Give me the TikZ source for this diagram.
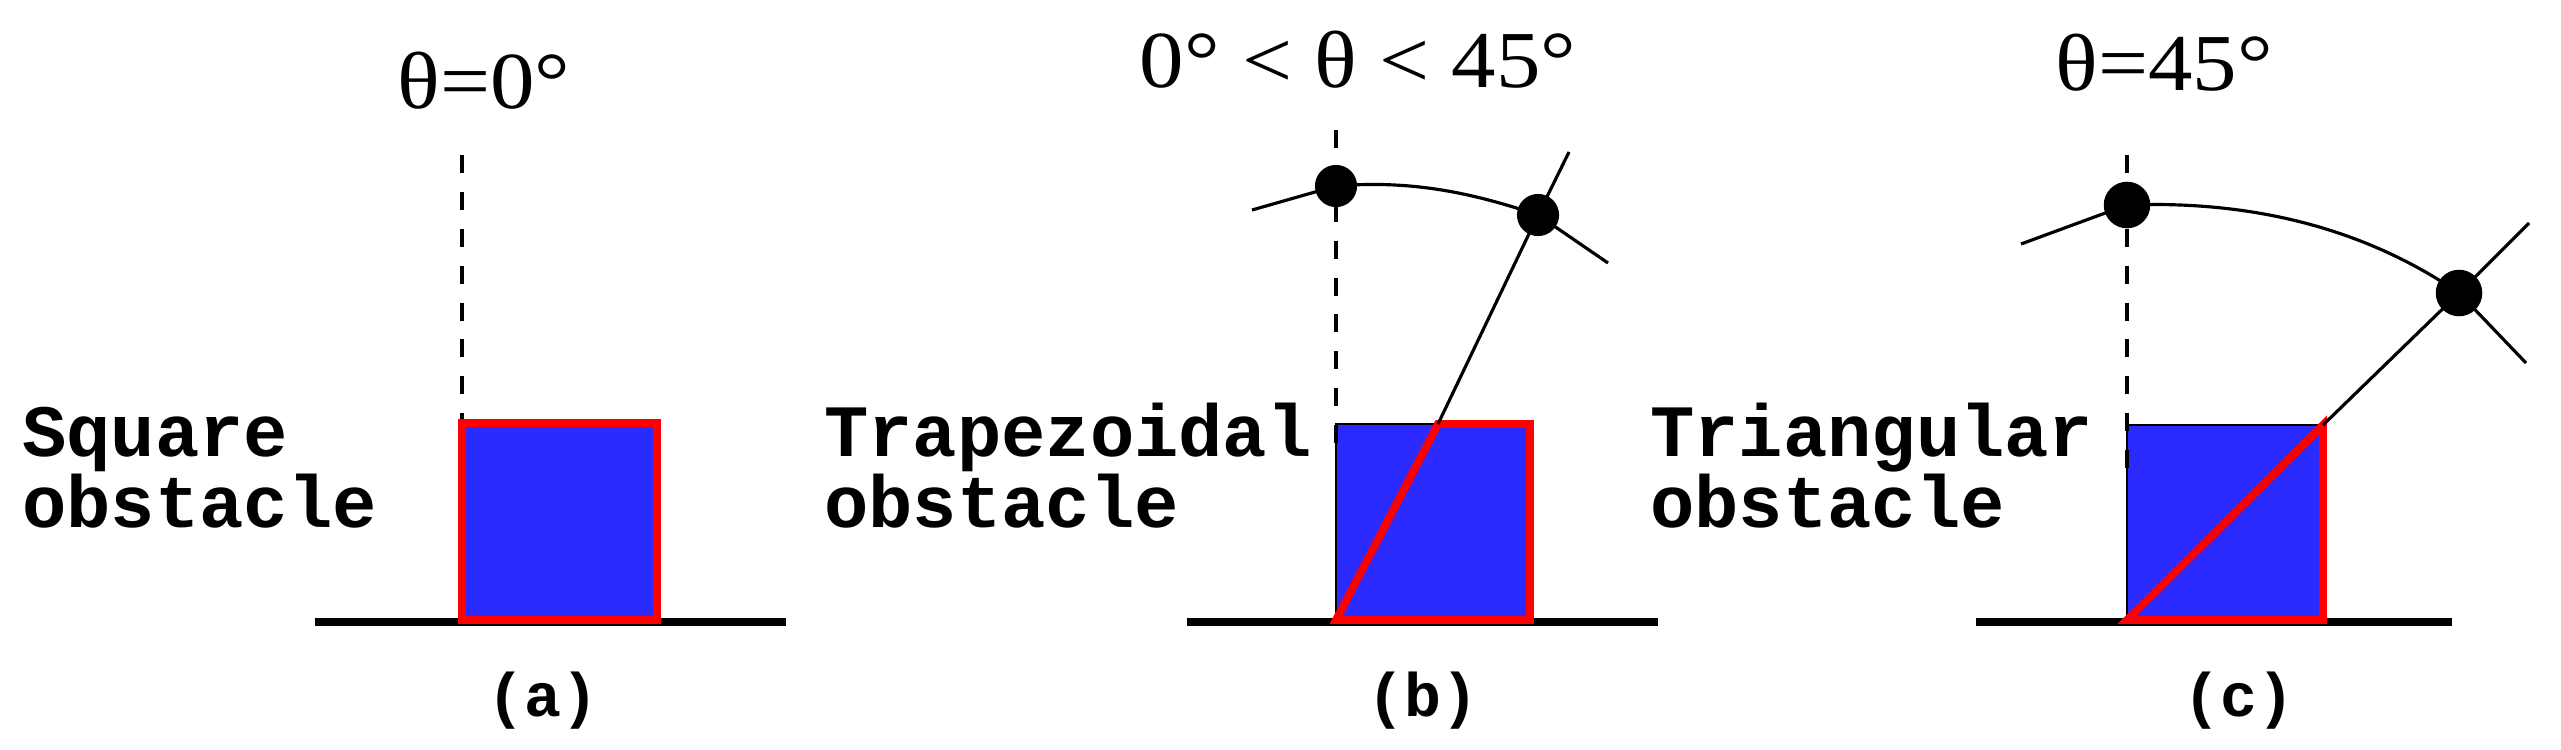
\documentclass[tikz,border=0pt]{standalone}
\usepackage{fontspec}
\setmainfont{Liberation Serif}
\setmonofont{Liberation Mono}
\newfontfamily\anglefont[FakeStretch=1.1]{Liberation Serif}
\definecolor{obstblue}{RGB}{43,43,255}
\definecolor{obstred}{RGB}{255,0,0}
\tikzset{
  ground/.style={line width=5pt},
  block/.style={fill=obstblue,draw=black,line width=1.5pt},
  redline/.style={draw=obstred,line width=4.5pt},
  vline/.style={line width=2.5pt,dash pattern=on 10.2pt off 10.8pt},
  arm/.style={line width=1.8pt},
  pivot/.style={circle,fill=black,inner sep=0pt,minimum size=24pt},
  anglelabel/.style={font=\fontsize{46}{54}\anglefont,inner sep=0pt,anchor=base},
  obstlabel/.style={font=\fontsize{42}{39}\selectfont\ttfamily\bfseries,inner sep=0pt,align=left,anchor=base west},
  caselabel/.style={font=\fontsize{35}{42}\selectfont\ttfamily\bfseries,inner sep=0pt,anchor=base}
}
\begin{document}
\begin{tikzpicture}[x=0.02cm,y=-0.02cm]
\useasboundingbox (0,0) rectangle (2561,750);
% (a) square
\coordinate (a-g1) at (315,622);
\coordinate (a-g2) at (786,622);
\coordinate (a-bl) at (462,620);
\coordinate (a-tr) at (657,423);
\coordinate (a-v1) at (462,155);
\coordinate (a-v2) at (462,440);
\draw[ground] (a-g1) -- (a-g2);
\path[block] (a-bl) rectangle (a-tr);
\draw[vline] (a-v1) -- (a-v2);
\draw[redline] (a-bl) rectangle (a-tr);
\node[anglelabel] (a-angle) at (484,109) {θ=0°};
\node[obstlabel] (a-name) at (22,527) {Square\\obstacle};
\node[caselabel] (a-case) at (543,716) {(a)};
% (b) trapezoid
\coordinate (b-g1) at (1187,622);
\coordinate (b-g2) at (1658,622);
\coordinate (b-bl) at (1336,620);
\coordinate (b-br) at (1530,620);
\coordinate (b-tr) at (1530,424);
\coordinate (b-cut) at (1438,424);
\coordinate (b-tip) at (1569,152);
\coordinate (b-v1) at (1336,130);
\coordinate (b-v2) at (1336,452);
\coordinate (b-p1) at (1336,186);
\coordinate (b-p2) at (1538,215);
\draw[ground] (b-g1) -- (b-g2);
\path[block] (b-bl) rectangle (b-tr);
\draw[vline] (b-v1) -- (b-v2);
\draw[redline] (b-bl) -- (b-cut) -- (b-tr) -- (b-br) -- cycle;
\draw[arm] (b-cut) -- (b-p2) -- (b-tip);
\draw[arm] (1252,210) -- (b-p1) .. controls (1410,180) and (1470,192) .. (b-p2) -- (1608,263);
\node[pivot] (b-dot1) at (b-p1) {};
\node[pivot] (b-dot2) at (b-p2) {};
\node[anglelabel] (b-angle) at (1358,88) {0° < θ < 45°};
\node[obstlabel] (b-name) at (824,527) {Trapezoidal\\obstacle};
\node[caselabel] (b-case) at (1423,716) {(b)};
% (c) triangle
\coordinate (c-g1) at (1976,622);
\coordinate (c-g2) at (2452,622);
\coordinate (c-bl) at (2127,620);
\coordinate (c-br) at (2323,620);
\coordinate (c-tr) at (2323,425);
\coordinate (c-tip) at (2529,223);
\coordinate (c-v1) at (2127,155);
\coordinate (c-v2) at (2127,478);
\coordinate (c-p1) at (2127,205);
\coordinate (c-p2) at (2459,293);
\draw[ground] (c-g1) -- (c-g2);
\path[block] (c-bl) rectangle (c-tr);
\draw[vline] (c-v1) -- (c-v2);
\draw[redline] (c-bl) -- (c-tr) -- (c-br) -- cycle;
\draw[arm] (c-tr) -- (c-p2) -- (c-tip);
\draw[arm] (2021,244) -- (c-p1) .. controls (2260,200) and (2370,232) .. (c-p2) -- (2526,363);
\node[pivot,minimum size=26.5pt] (c-dot1) at (c-p1) {};
\node[pivot,minimum size=26.5pt] (c-dot2) at (c-p2) {};
\node[anglelabel] (c-angle) at (2164,91) {θ=45°};
\node[obstlabel] (c-name) at (1650,527) {Triangular\\obstacle};
\node[caselabel] (c-case) at (2239,716) {(c)};
\end{tikzpicture}
\end{document}
